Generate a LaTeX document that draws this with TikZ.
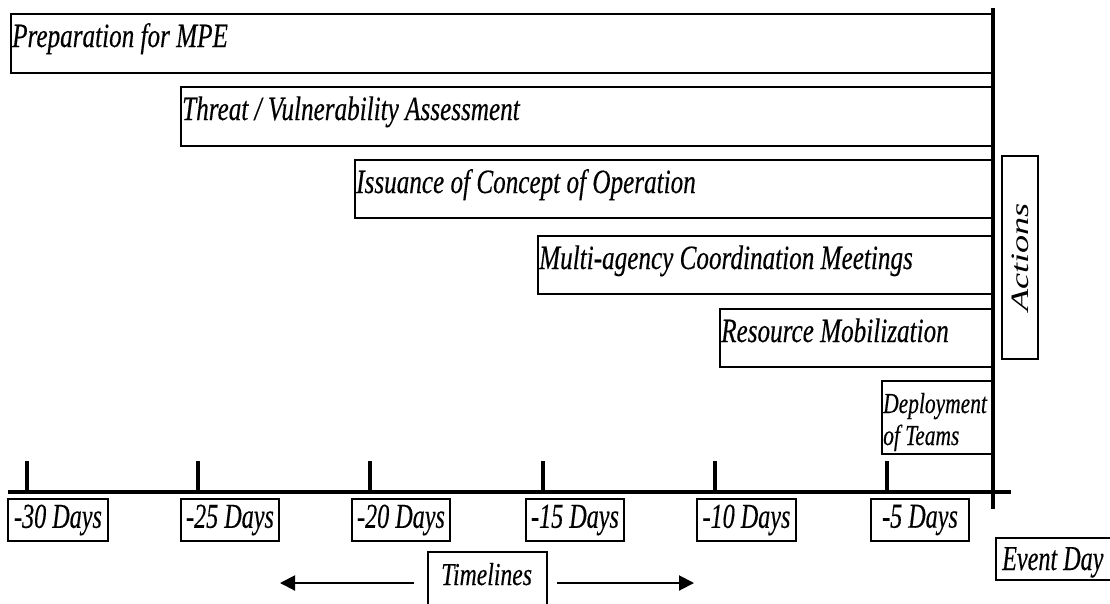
\documentclass[tikz,border=0pt]{standalone}
\usepackage{fontspec}
\usepackage{graphicx}
\setmainfont{Liberation Serif}
\newfontfamily\cf[FakeStretch=0.74,FakeBold=0.3]{Liberation Serif}
\newfontfamily\df[FakeStretch=0.69,FakeBold=0.3]{Liberation Serif}
\usetikzlibrary{arrows.meta}
\begin{document}
\begin{tikzpicture}[x=1pt,y=-1pt,
  bar/.style={draw=black, line width=1.6pt, fill=white, inner sep=0pt, anchor=north west},
  lbl/.style={anchor=base west, inner sep=0pt, font=\cf\itshape\fontsize{34}{38}\selectfont},
  daybox/.style={draw=black, line width=1.6pt, fill=white, inner sep=0pt, minimum height=42pt,
     font=\df\itshape\fontsize{35}{38}\selectfont},
  tick/.style={line width=4pt},
  axisline/.style={line width=4.5pt},
  tlarrow/.style={line width=2pt, -{Triangle[length=15pt,width=15pt]}}]
\useasboundingbox (0,0) rectangle (1110,603);
\clip (0,0) rectangle (1110,603);

% activity bars
\node[bar, minimum width=982pt, minimum height=59pt] (b1) at (10,13) {};
\node[bar, minimum width=812pt, minimum height=59pt] (b2) at (180,86) {};
\node[bar, minimum width=638pt, minimum height=58pt] (b3) at (354,159) {};
\node[bar, minimum width=455pt, minimum height=58pt] (b4) at (537,235) {};
\node[bar, minimum width=273pt, minimum height=58pt] (b5) at (719,308) {};
\node[bar, minimum width=111pt, minimum height=73pt] (b6) at (881,380) {};

\node[lbl] (t1) at ([xshift=2pt,yshift=-34pt]b1.north west) {Preparation for MPE};
\node[lbl] (t2) at ([xshift=2pt,yshift=-34pt]b2.north west) {Threat / Vulnerability Assessment};
\node[lbl] (t3) at ([xshift=2pt,yshift=-34pt]b3.north west) {Issuance of Concept of Operation};
\node[lbl] (t4) at ([xshift=2pt,yshift=-34pt]b4.north west) {Multi-agency Coordination Meetings};
\node[lbl] (t5) at ([xshift=2pt,yshift=-34pt]b5.north west) {Resource Mobilization};
\node[lbl, font=\cf\itshape\fontsize{29}{32}\selectfont] (t6a) at ([xshift=2pt,yshift=-33pt]b6.north west) {Deployment};
\node[lbl, font=\cf\itshape\fontsize{29}{32}\selectfont] (t6b) at ([xshift=2pt,yshift=-65pt]b6.north west) {of Teams};

% event day line and axis
\coordinate (evtop) at (993,8);
\coordinate (evbot) at (993,509);
\draw[line width=4pt] (evtop) -- (evbot);
\coordinate (axl) at (8,492);
\coordinate (axr) at (1011,492);
\draw[axisline] (axl) -- (axr);
\foreach \x/\n in {27/k30,198/k25,370/k20,543/k15,715/k10,887/k5}{
  \coordinate (\n) at (\x,461);
  \draw[tick] (\n) -- (\n |- axl);
}

% actions
\node[draw=black, line width=1.6pt, minimum width=36pt, minimum height=203pt, inner sep=0pt] (act) at (1020,257.5) {};
\node[rotate=90, inner sep=0pt, font=\itshape\fontsize{25}{30}\selectfont] (acttxt) at (act.center) {\scalebox{1.45}[1]{Actions}};

% day labels
\node[daybox, minimum width=100pt] (d30) at (58,520) {-30 Days};
\node[daybox, minimum width=98pt] (d25) at (230,520) {-25 Days};
\node[daybox, minimum width=98pt] (d20) at (401,520) {-20 Days};
\node[daybox, minimum width=98pt] (d15) at (575,520) {-15 Days};
\node[daybox, minimum width=99pt] (d10) at (746.5,520) {-10 Days};
\node[daybox, minimum width=98pt] (d5) at (920,520) {-5 Days};
\node[daybox, minimum width=125pt, anchor=west] (ev) at (995,559) {};
\node[lbl, font=\df\itshape\fontsize{35}{38}\selectfont] (evtxt) at (1002,570) {Event Day};

% timelines
\node[draw=black, line width=1.6pt, fill=white, minimum width=119pt, minimum height=62pt, inner sep=0pt] (tl) at (487.5,583) {};
\node[lbl, font=\cf\itshape\fontsize{32}{34}\selectfont] (tltxt) at (441,585) {Timelines};
\coordinate (ltip) at (280,583);
\coordinate (rtip) at (694,583);
\draw[tlarrow] ([xshift=-13pt]tl.west) -- (ltip);
\draw[tlarrow] ([xshift=9pt]tl.east) -- (rtip);
\end{tikzpicture}
\end{document}
